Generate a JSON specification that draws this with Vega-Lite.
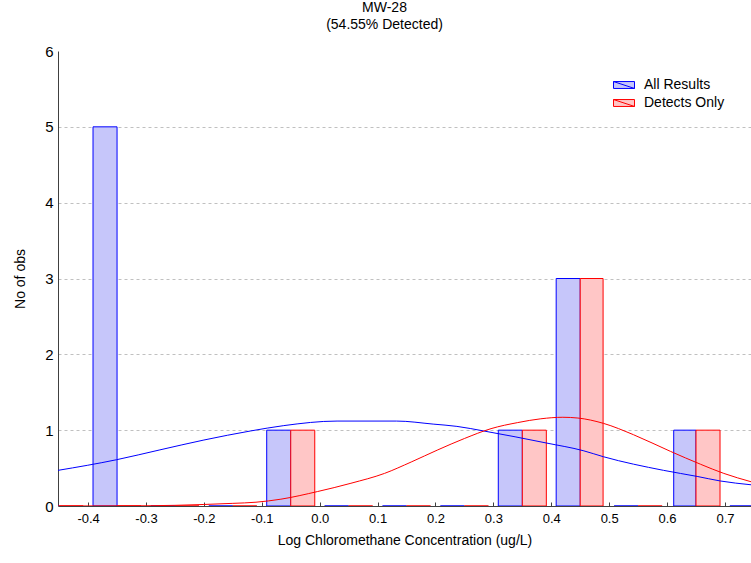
{
  "$schema": "https://vega.github.io/schema/vega-lite/v6.json",
  "width": 693,
  "height": 455,
  "autosize": {"type": "none"},
  "padding": {"left": 58, "top": 51, "right": 0, "bottom": 57},
  "background": "white",
  "title": {
    "text": ["MW-28", "(54.55% Detected)"],
    "fontSize": 14,
    "font": "Liberation Sans",
    "fontWeight": "normal",
    "color": "black",
    "anchor": "middle",
    "dx": -20,
    "offset": 12,
    "lineHeight": 17
  },
  "config": {"view": {"stroke": null}, "font": "Liberation Sans"},
  "datasets": {
    "bars": [
      {"series": "All Results", "x0": -0.4915, "x1": -0.45, "count": 0},
      {"series": "Detects Only", "x0": -0.45, "x1": -0.4085, "count": 0},
      {"series": "All Results", "x0": -0.3915, "x1": -0.35, "count": 5},
      {"series": "Detects Only", "x0": -0.35, "x1": -0.3085, "count": 0},
      {"series": "All Results", "x0": -0.2915, "x1": -0.25, "count": 0},
      {"series": "Detects Only", "x0": -0.25, "x1": -0.2085, "count": 0},
      {"series": "All Results", "x0": -0.1915, "x1": -0.15, "count": 0},
      {"series": "Detects Only", "x0": -0.15, "x1": -0.1085, "count": 0},
      {"series": "All Results", "x0": -0.0915, "x1": -0.05, "count": 1},
      {"series": "Detects Only", "x0": -0.05, "x1": -0.0085, "count": 1},
      {"series": "All Results", "x0": 0.0085, "x1": 0.05, "count": 0},
      {"series": "Detects Only", "x0": 0.05, "x1": 0.0915, "count": 0},
      {"series": "All Results", "x0": 0.1085, "x1": 0.15, "count": 0},
      {"series": "Detects Only", "x0": 0.15, "x1": 0.1915, "count": 0},
      {"series": "All Results", "x0": 0.2085, "x1": 0.25, "count": 0},
      {"series": "Detects Only", "x0": 0.25, "x1": 0.2915, "count": 0},
      {"series": "All Results", "x0": 0.3085, "x1": 0.35, "count": 1},
      {"series": "Detects Only", "x0": 0.35, "x1": 0.3915, "count": 1},
      {"series": "All Results", "x0": 0.4085, "x1": 0.45, "count": 3},
      {"series": "Detects Only", "x0": 0.45, "x1": 0.4895, "count": 3},
      {"series": "All Results", "x0": 0.5085, "x1": 0.55, "count": 0},
      {"series": "Detects Only", "x0": 0.55, "x1": 0.5915, "count": 0},
      {"series": "All Results", "x0": 0.6115, "x1": 0.65, "count": 1},
      {"series": "Detects Only", "x0": 0.65, "x1": 0.6915, "count": 1},
      {"series": "All Results", "x0": 0.7085, "x1": 0.75, "count": 0}
    ],
    "blueCurve": [
      {"x": -0.452, "y": 0.47},
      {"x": -0.351, "y": 0.61},
      {"x": -0.276, "y": 0.74},
      {"x": -0.2, "y": 0.87},
      {"x": -0.119, "y": 0.99},
      {"x": -0.062, "y": 1.06},
      {"x": 0.03, "y": 1.12},
      {"x": 0.133, "y": 1.12},
      {"x": 0.196, "y": 1.08},
      {"x": 0.237, "y": 1.05},
      {"x": 0.283, "y": 0.99},
      {"x": 0.392, "y": 0.83},
      {"x": 0.455, "y": 0.73},
      {"x": 0.49, "y": 0.65},
      {"x": 0.594, "y": 0.47},
      {"x": 0.652, "y": 0.39},
      {"x": 0.692, "y": 0.33},
      {"x": 0.745, "y": 0.28}
    ],
    "redCurve": [
      {"x": -0.452, "y": 0.0},
      {"x": -0.3, "y": 0.003},
      {"x": -0.2, "y": 0.02},
      {"x": -0.15, "y": 0.035},
      {"x": -0.11, "y": 0.05},
      {"x": -0.067, "y": 0.09},
      {"x": -0.004, "y": 0.19},
      {"x": 0.054, "y": 0.3},
      {"x": 0.112, "y": 0.43},
      {"x": 0.158, "y": 0.58},
      {"x": 0.204, "y": 0.74},
      {"x": 0.25, "y": 0.89},
      {"x": 0.296, "y": 1.02},
      {"x": 0.342, "y": 1.1},
      {"x": 0.382, "y": 1.15},
      {"x": 0.42, "y": 1.17},
      {"x": 0.446, "y": 1.16},
      {"x": 0.49, "y": 1.09},
      {"x": 0.542, "y": 0.94},
      {"x": 0.606, "y": 0.72},
      {"x": 0.658, "y": 0.55},
      {"x": 0.698, "y": 0.43},
      {"x": 0.745, "y": 0.32}
    ]
  },
  "layer": [
    {
      "data": {"name": "bars"},
      "mark": {"type": "rect", "clip": true, "strokeWidth": 1},
      "encoding": {
        "x": {
          "field": "x0",
          "type": "quantitative",
          "scale": {"domain": [-0.452, 0.745], "nice": false, "zero": false},
          "axis": {
            "title": "Log Chloromethane Concentration (ug/L)",
            "titleFontSize": 14,
            "titleFontWeight": "normal",
            "titleColor": "black",
            "titlePadding": 8,
            "values": [-0.4, -0.3, -0.2, -0.1, 0, 0.1, 0.2, 0.3, 0.4, 0.5, 0.6, 0.7],
            "format": ".1f",
            "labelExpr": "replace(datum.label, '\u2212', '-')",
            "labelFontSize": 13,
            "labelColor": "black",
            "labelPadding": 10,
            "labelFlush": false,
            "grid": false,
            "tickSize": -4,
            "tickColor": "#404040",
            "domainColor": "#404040"
          }
        },
        "x2": {"field": "x1"},
        "y": {
          "field": "count",
          "type": "quantitative",
          "scale": {"domain": [0, 6], "nice": false},
          "axis": {
            "title": "No of obs",
            "titleFontSize": 14,
            "titleFontWeight": "normal",
            "titleColor": "black",
            "titlePadding": 17,
            "values": [0, 1, 2, 3, 4, 5, 6],
            "format": "d",
            "labelFontSize": 15,
            "labelColor": "black",
            "labelPadding": 5,
            "ticks": false,
            "grid": true,
            "gridDash": [3, 3],
            "gridColor": "#c0c0c0",
            "gridOpacity": {"condition": {"test": "datum.value == 0 || datum.value == 6", "value": 0}, "value": 1},
            "domainColor": "#404040"
          }
        },
        "y2": {"datum": 0},
        "fill": {
          "field": "series",
          "type": "nominal",
          "scale": {"domain": ["All Results", "Detects Only"], "range": ["#c6c6fa", "#ffc6c6"]},
          "legend": {
            "title": null,
            "orient": "none",
            "legendX": 555,
            "legendY": 23,
            "padding": 0,
            "symbolType": "M-1,-0.33H1V0.33H-1Z M-1,-0.33L1,0.33",
            "symbolSize": 441,
            "symbolStrokeWidth": 1,
            "labelFontSize": 14,
            "labelColor": "black",
            "labelOffset": 9,
            "rowPadding": 0
          }
        },
        "stroke": {
          "field": "series",
          "type": "nominal",
          "scale": {"domain": ["All Results", "Detects Only"], "range": ["#0000ff", "#ff0000"]},
          "legend": {
            "title": null,
            "orient": "none",
            "legendX": 555,
            "legendY": 23,
            "padding": 0,
            "symbolType": "M-1,-0.33H1V0.33H-1Z M-1,-0.33L1,0.33",
            "symbolSize": 441,
            "symbolStrokeWidth": 1,
            "labelFontSize": 14,
            "labelColor": "black",
            "labelOffset": 9,
            "rowPadding": 0
          }
        }
      }
    },
    {
      "data": {"name": "blueCurve"},
      "mark": {"type": "line", "color": "#0000ff", "strokeWidth": 1, "interpolate": "monotone", "clip": true},
      "encoding": {
        "x": {"field": "x", "type": "quantitative"},
        "y": {"field": "y", "type": "quantitative"}
      }
    },
    {
      "data": {"name": "redCurve"},
      "mark": {"type": "line", "color": "#ff0000", "strokeWidth": 1, "interpolate": "monotone", "clip": true},
      "encoding": {
        "x": {"field": "x", "type": "quantitative"},
        "y": {"field": "y", "type": "quantitative"}
      }
    }
  ]
}
